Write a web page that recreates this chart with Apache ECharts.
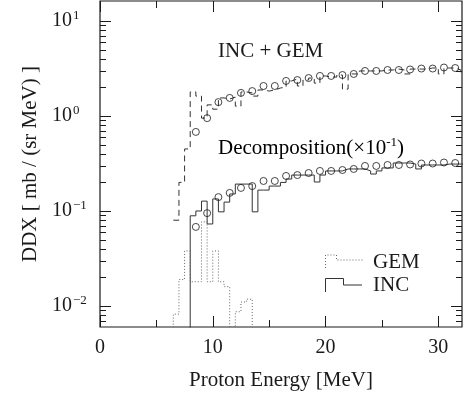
<!DOCTYPE html>
<html>
<head>
<meta charset="utf-8">
<script src="https://cdn.jsdelivr.net/npm/echarts@6/dist/echarts.min.js"></script>
<style>
  html, body { margin: 0; padding: 0; background: #fff; }
  #chart { width: 469px; height: 398px; }
</style>
</head>
<body>
<div id="chart"></div>
<script>
// lower edges of the 0.5 MeV calculation bins
const binLo = [
  6.0, 6.5, 7.0, 7.5, 8.0, 8.5, 9.0, 9.5, 10.0, 10.5,
  11.0, 11.5, 12.0, 12.5, 13.0, 13.5, 14.0, 14.5, 15.0, 15.5,
  16.0, 16.5, 17.0, 17.5, 18.0, 18.5, 19.0, 19.5, 20.0, 20.5,
  21.0, 21.5, 22.0, 22.5, 23.0, 23.5, 24.0, 24.5, 25.0, 25.5,
  26.0, 26.5, 27.0, 27.5, 28.0, 28.5, 29.0, 29.5, 30.0, 30.5,
  31.0, 31.5, 32.0
];
// INC + GEM calculation (dashed), null = no bin
const incGem = [
  null, 0.080, 0.20, 0.45, 1.79, 1.62, 0.95, 1.31, 1.18, 1.55,
  1.51, 1.58, 1.27, 1.79, 1.75, 1.62, 1.88, 1.83, 1.88, 1.97,
  2.02, 2.34, 2.45, 2.07, 2.39, 2.51, 2.22, 2.64, 2.57, 2.57,
  2.70, 1.92, 2.77, 2.77, 2.98, 2.98, 2.98, 2.98, 3.05, 3.05,
  3.12, 3.05, 2.77, 3.12, 3.12, 3.12, 3.20, 3.20, 2.77, 3.20,
  3.20, 3.05, 2.77
];
// decomposition, as drawn (already x 10^-1); 0 = below the frame
const incPart = [
  null, null, null, 0, 0.089, 0.100, 0.127, 0.073, 0.134, 0.098,
  0.124, 0.151, 0.192, 0.192, 0.192, 0.098, 0.166, 0.166, 0.183, 0.183,
  0.200, 0.217, 0.239, 0.239, 0.239, 0.239, 0.202, 0.239, 0.264, 0.264,
  0.264, 0.277, 0.277, 0.277, 0.277, 0.264, 0.245, 0.264, 0.284, 0.284,
  0.320, 0.320, 0.320, 0.312, 0.277, 0.305, 0.305, 0.305, 0.305, 0.312,
  0.312, 0.312, 0.312
];
const gemPart = [
  0, 0.0082, 0.019, 0.038, 0.018, 0.018, 0.077, 0.018, 0.038, 0.018,
  0.016, 0, 0.0087, 0.011, 0.0118, 0
];
// experimental points
const expE = [
  8.5, 9.5, 10.5, 11.5, 12.5, 13.5, 14.5, 15.5, 16.5, 17.5, 18.5, 19.5,
  20.5, 21.5, 22.5, 23.5, 24.5, 25.5, 26.5, 27.5, 28.5, 29.5, 30.5, 31.5
];
const expVal = [
  0.68, 0.95, 1.40, 1.55, 1.75, 1.83, 2.07, 2.07, 2.34, 2.39, 2.51, 2.64,
  2.64, 2.70, 2.77, 2.98, 2.98, 3.05, 3.05, 3.09, 3.16, 3.16, 3.24, 3.20
];
const decompScale = 0.1;

const xMajor = [0, 10, 20, 30];
const xMinor = [5, 15, 25];
const yMajor = [0.01, 0.1, 1, 10];
const yMinor = [0.007, 0.008, 0.009, 0.02, 0.03, 0.04, 0.05, 0.06, 0.07, 0.08, 0.09,
  0.2, 0.3, 0.4, 0.5, 0.6, 0.7, 0.8, 0.9, 2, 3, 4, 5, 6, 7, 8, 9];

const yMin = 0.00601, yMax = 16.24, xMax = 32.1;
const belowFrame = 1e-4;
const font = 'Liberation Serif';
const ink = '#1a1a1a';

// histogram bins -> points for a step line
function steps(vals) {
  const pts = [];
  let last = -1;
  for (let i = 0; i < vals.length; i++) {
    if (vals[i] == null) continue;
    pts.push([binLo[i], vals[i] === 0 ? belowFrame : vals[i]]);
    last = i;
  }
  if (last >= 0) {
    const w = binLo[1] - binLo[0];
    const v = vals[last] === 0 ? belowFrame : vals[last];
    pts.push([binLo[last] + w, v]);
  }
  return pts;
}

const expUpper = expE.map((e, i) => [e, expVal[i]]);
const expLower = expE.map((e, i) => [e, expVal[i] * decompScale]);

function xAx(pos, ticks, len, labels) {
  return {
    type: 'value', min: 0, max: xMax, position: pos,
    axisLine: { show: false, onZero: false }, splitLine: { show: false },
    axisTick: { show: true, inside: true, length: len, customValues: ticks, lineStyle: { color: ink, width: 1 } },
    axisLabel: labels ? { customValues: ticks, margin: 11, fontFamily: font, fontSize: 20, color: ink } : { show: false }
  };
}

const xBottom = xAx('bottom', xMajor, 11, true);
xBottom.name = 'Proton Energy [MeV]';
xBottom.nameLocation = 'middle';
xBottom.nameGap = 43;
xBottom.nameTextStyle = { fontFamily: font, fontSize: 21, color: ink };

const annotations = [
  { type: 'text', x: 218, y: 51,
    style: { text: 'INC + GEM', font: '21px "Liberation Serif"', fill: ink, verticalAlign: 'middle' } },
  { type: 'text', x: 218, y: 148,
    style: {
      text: '{a|Decomposition(\u00d710}{s|-1}{a|)}', verticalAlign: 'middle',
      rich: {
        a: { fontFamily: font, fontSize: 21, color: ink },
        s: { fontFamily: font, fontSize: 13, color: ink, padding: [0, 0, 11, 0] }
      }
    } },
  // legend keys
  { type: 'polyline', shape: { points: [[325.5, 268], [325.5, 255], [336.5, 255], [336.5, 260], [363, 260]] },
    style: { stroke: '#666', lineWidth: 1, lineDash: [1, 2], fill: null } },
  { type: 'polyline', shape: { points: [[325.5, 292], [325.5, 278.5], [343.5, 278.5], [343.5, 285], [362, 285]] },
    style: { stroke: '#333', lineWidth: 1, fill: null } },
  { type: 'text', x: 373, y: 262,
    style: { text: 'GEM', font: '21px "Liberation Serif"', fill: ink, verticalAlign: 'middle' } },
  { type: 'text', x: 373, y: 285,
    style: { text: 'INC', font: '21px "Liberation Serif"', fill: ink, verticalAlign: 'middle' } }
];

const chart = echarts.init(document.getElementById('chart'));
chart.setOption({
  animation: false,
  backgroundColor: '#fff',
  grid: { left: 100, right: 7, top: 1, bottom: 71, show: true, borderColor: ink, borderWidth: 1.2 },
  xAxis: [
    xBottom,
    xAx('bottom', xMinor, 7, false),
    xAx('top', xMajor, 11, false),
    xAx('top', xMinor, 7, false)
  ],
  yAxis: [{
    type: 'log', min: yMin, max: yMax, position: 'left',
    axisLine: { show: false, onZero: false }, splitLine: { show: false },
    axisTick: { show: false },
    axisLabel: {
      customValues: yMajor, align: 'left', margin: 48,
      formatter: v => {
        const p = Math.round(Math.log10(v));
        return '{b|10}{s|' + (p < 0 ? '\u2212' + (-p) : p) + '}';
      },
      rich: {
        b: { fontFamily: font, fontSize: 20, color: ink },
        s: { fontFamily: font, fontSize: 13, color: ink, padding: [0, 0, 10, 1] }
      }
    },
    name: 'DDX [ mb / (sr MeV) ]', nameLocation: 'middle', nameGap: 52,
    nameTextStyle: { fontFamily: font, fontSize: 21, color: ink }
  }],
  series: [
    {
      name: 'INC + GEM', type: 'line', step: 'end', data: steps(incGem),
      showSymbol: false, symbol: 'none',
      lineStyle: { color: '#333', width: 1, type: [6, 4] }
    },
    {
      name: 'INC', type: 'line', step: 'end', data: steps(incPart),
      showSymbol: false, symbol: 'none',
      lineStyle: { color: '#333', width: 1 }
    },
    {
      name: 'GEM', type: 'line', step: 'end', data: steps(gemPart),
      showSymbol: false, symbol: 'none',
      lineStyle: { color: '#666', width: 1, type: [1, 2] }
    },
    {
      name: 'exp', type: 'scatter', data: expUpper, symbol: 'circle', symbolSize: 7,
      itemStyle: { color: 'rgba(0,0,0,0)', borderColor: ink, borderWidth: 1 }, z: 5
    },
    {
      name: 'exp decomp', type: 'scatter', data: expLower, symbol: 'circle', symbolSize: 7,
      itemStyle: { color: 'rgba(0,0,0,0)', borderColor: ink, borderWidth: 1 }, z: 5
    }
  ],
  graphic: annotations
});

// inward y ticks on both frame sides, placed through the log axis
const xL = chart.convertToPixel({ xAxisIndex: 0 }, 0);
const xR = chart.convertToPixel({ xAxisIndex: 0 }, xMax);
const yTicks = [];
function addTicks(vals, len) {
  vals.forEach(v => {
    const y = Math.round(chart.convertToPixel({ yAxisIndex: 0 }, v)) + 0.5;
    yTicks.push({ type: 'line', silent: true, shape: { x1: xL, y1: y, x2: xL + len, y2: y }, style: { stroke: ink, lineWidth: 1 } });
    yTicks.push({ type: 'line', silent: true, shape: { x1: xR - len, y1: y, x2: xR, y2: y }, style: { stroke: ink, lineWidth: 1 } });
  });
}
addTicks(yMajor, 11);
addTicks(yMinor, 6);
chart.setOption({ graphic: annotations.concat(yTicks) });
</script>
</body>
</html>
